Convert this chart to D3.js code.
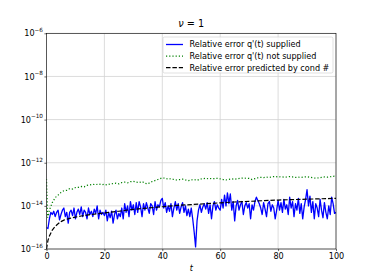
<!DOCTYPE html>
<html><head><meta charset="utf-8">
<script src="https://cdn.jsdelivr.net/npm/d3@7"></script>
<style>body{margin:0;background:#fff}svg{display:block}text{font-family:"DejaVu Sans",sans-serif}</style>
</head><body>
<svg id="c" width="374" height="280"></svg>
<script>
// Data (errors as log10 exponents)
const titleText = "= 1";
const xTicks = [0, 20, 40, 60, 80, 100];
const yTickExps = [-16, -14, -12, -10, -8, -6];
const legendLabels = ["Relative error q'(t) supplied", "Relative error q'(t) not supplied", "Relative error predicted by cond #"];

// blue: t = 0, 0.5, ..., 100
const tSupplied = d3.range(0, 100.01, 0.5);
const logErrSupplied = [
 -15.0,-15.05,-14.6,-14.3,-14.4,-14.25,-14.5,-14.3,-14.2,-14.65,-14.4,-14.2,-14.1,-14.5,-14.3,-14.8,-14.3,-14.2,-14.45,-14.1,
 -14.6,-14.3,-14.15,-14.4,-14.05,-14.5,-14.2,-14.3,-14.6,-14.1,-14.4,-14.25,-14.5,-14.15,-14.35,-14.0,-14.6,-14.2,-14.4,-14.3,
 -14.45,-14.2,-14.7,-14.3,-14.55,-14.25,-14.8,-14.4,-14.2,-14.6,-14.35,-14.5,-14.1,-14.6,-13.9,-14.3,-14.0,-14.5,-13.8,-14.2,
 -13.95,-14.4,-13.85,-14.3,-13.8,-14.05,-14.5,-13.9,-14.2,-13.85,-14.1,-14.35,-13.9,-14.0,-14.4,-13.8,-14.2,-13.95,-14.05,-13.75,
 -13.65,-14.1,-13.85,-14.3,-14.0,-14.25,-13.9,-14.5,-14.1,-13.8,-14.2,-13.9,-14.35,-14.05,-13.85,-14.3,-14.0,-14.45,-14.15,-14.5,
 -14.1,-14.6,-15.2,-15.9,-14.7,-14.2,-13.95,-14.3,-14.05,-13.9,-14.15,-13.85,-14.35,-13.95,-14.6,-14.0,-13.8,-14.2,-13.95,-14.1,
 -14.2,-13.7,-14.1,-13.5,-14.0,-13.4,-13.9,-13.45,-14.2,-13.8,-14.7,-14.0,-13.75,-14.2,-13.95,-13.8,-14.4,-14.0,-13.85,-14.1,
 -13.9,-14.6,-13.95,-14.2,-13.8,-13.6,-13.75,-13.9,-14.1,-14.4,-13.85,-14.15,-14.5,-13.9,-13.8,-14.25,-13.95,-14.1,-14.6,-14.2,
 -13.75,-14.2,-13.85,-14.3,-13.7,-14.15,-13.95,-14.4,-13.6,-14.1,-13.8,-14.5,-13.9,-14.2,-13.65,-14.35,-13.9,-14.6,-14.05,-13.7,
 -13.25,-14.0,-13.55,-14.3,-13.8,-14.6,-13.9,-14.1,-14.5,-13.7,-14.2,-14.55,-13.85,-14.3,-14.6,-14.0,-14.4,-13.6,-13.9,-14.35,
 -14.3
];

// green
const tNotSupplied = [0, 0.4].concat(d3.range(1, 101, 1));
const logErrNotSupplied = [
 -12.75,-14.55,-14.2,-13.85,-13.62,-13.5,-13.38,-13.3,-13.28,-13.2,-13.22,
 -13.15,-13.14,-13.1,-13.12,-13.05,-13.03,-13.0,-13.02,-12.98,-13.02,
 -13.0,-13.03,-12.98,-12.97,-12.95,-12.98,-12.92,-12.9,-12.93,-12.88,
 -12.86,-12.9,-12.92,-12.87,-12.95,-12.98,-12.9,-12.85,-12.8,-12.75,
 -12.7,-12.72,-12.76,-12.74,-12.78,-12.8,-12.78,-12.76,-12.8,-12.83,
 -12.8,-12.78,-12.82,-12.76,-12.74,-12.72,-12.75,-12.73,-12.74,-12.72,
 -12.75,-12.78,-12.8,-12.77,-12.75,-12.77,-12.74,-12.72,-12.71,-12.72,
 -12.73,-12.78,-12.74,-12.7,-12.68,-12.69,-12.67,-12.68,-12.65,-12.64,
 -12.66,-12.65,-12.67,-12.66,-12.64,-12.66,-12.68,-12.67,-12.68,-12.66,
 -12.65,-12.67,-12.7,-12.72,-12.7,-12.68,-12.66,-12.67,-12.65,-12.63,-12.62
];

// black dashed
const tPredicted = [0,0.5,1,2,3,4,5,6,8,10,12,15,20,25,30,35,40,45,50,55,60,65,70,75,80,85,90,95,100];
const logErrPredicted = [-16.0,-15.6,-15.4,-15.12,-14.95,-14.83,-14.73,-14.66,-14.58,-14.52,-14.47,-14.41,-14.33,-14.25,-14.16,-14.1,-14.04,-13.98,-13.94,-13.9,-13.86,-13.82,-13.79,-13.76,-13.73,-13.71,-13.69,-13.67,-13.65];

const svg = d3.select("#c");
const L = 46.5, R = 336, T = 33.3, B = 249;
const x = d3.scaleLinear().domain([0, 100]).range([L, R]);
const y = d3.scaleLog().domain([1e-16, 1e-6]).range([B, T]);

// grid
const g = svg.append("g");
g.selectAll("line.gx").data(xTicks).join("line")
  .attr("x1", d => x(d)).attr("x2", d => x(d)).attr("y1", T).attr("y2", B)
  .attr("stroke", "#d3d3d3").attr("stroke-width", 0.8);
g.selectAll("line.gy").data(yTickExps).join("line")
  .attr("y1", d => y(Math.pow(10, d))).attr("y2", d => y(Math.pow(10, d))).attr("x1", L).attr("x2", R)
  .attr("stroke", "#d3d3d3").attr("stroke-width", 0.8);

const clip = svg.append("clipPath").attr("id", "pc").append("rect")
  .attr("x", L).attr("y", T).attr("width", R - L).attr("height", B - T);

const line = d3.line().x(d => x(d[0])).y(d => y(Math.pow(10, d[1])));
const pl = svg.append("g").attr("clip-path", "url(#pc)");
pl.append("path").datum(d3.zip(tSupplied, logErrSupplied)).attr("d", line)
  .attr("fill", "none").attr("stroke", "#0000ff").attr("stroke-width", 1.3).attr("stroke-linejoin", "round");
pl.append("path").datum(d3.zip(tNotSupplied, logErrNotSupplied)).attr("d", line)
  .attr("fill", "none").attr("stroke", "#008000").attr("stroke-width", 1.2).attr("stroke-dasharray", "1.2,2");
pl.append("path").datum(d3.zip(tPredicted, logErrPredicted)).attr("d", line)
  .attr("fill", "none").attr("stroke", "#000").attr("stroke-width", 1.2).attr("stroke-dasharray", "4.5,1.9");

// axes
const xa = svg.append("g").attr("transform", `translate(0,${B})`)
  .call(d3.axisBottom(x).tickValues(xTicks).tickSize(2.1).tickPadding(2));
xa.select(".domain").remove();
xa.selectAll("text").attr("font-size", "8.1px").attr("font-family", "DejaVu Sans").attr("fill", "#000");
xa.selectAll("line").attr("stroke-width", 0.6);

const ya = svg.append("g").attr("transform", `translate(${L},0)`)
  .call(d3.axisLeft(y).tickValues(yTickExps.map(e => Math.pow(10, e))).tickSize(2.1).tickFormat(""));
ya.select(".domain").remove();
ya.selectAll("line").attr("stroke-width", 0.6);
ya.selectAll(".tick").each(function(d) {
  const e = Math.round(Math.log10(d));
  const t = d3.select(this).append("text").attr("x", -3.5).attr("dy", "0.32em")
    .attr("text-anchor", "end").attr("font-size", "8.1px").attr("fill", "#000");
  t.append("tspan").text("10");
  t.append("tspan").attr("font-size", "5.7px").attr("dy", "-0.75em").text("\u2212" + Math.abs(e));
});

// spines
svg.append("rect").attr("x", L).attr("y", T).attr("width", R - L).attr("height", B - T)
  .attr("fill", "none").attr("stroke", "#000").attr("stroke-width", 0.6);

// title
const tt = svg.append("text").attr("x", (L + R) / 2).attr("y", 26.5).attr("text-anchor", "middle")
  .attr("font-size", "9.7px");
tt.append("tspan").attr("font-style", "italic").text("\u03bd");
tt.append("tspan").text(" " + titleText);

// x label
svg.append("text").attr("x", (L + R) / 2).attr("y", 271).attr("text-anchor", "middle")
  .attr("font-size", "8.1px").attr("font-style", "italic").text("t");

// legend
const lg = svg.append("g");
lg.append("rect").attr("x", 163).attr("y", 37).attr("width", 170).attr("height", 36).attr("rx", 1.6)
  .attr("fill", "#fff").attr("fill-opacity", 0.8).attr("stroke", "#cccccc").attr("stroke-width", 0.6);
const styles = [
  {c: "#0000ff", d: null, w: 1.3},
  {c: "#008000", d: "1.2,2", w: 1.2},
  {c: "#000", d: "4.5,1.9", w: 1.2}
];
legendLabels.forEach((lab, i) => {
  const yy = 44.5 + i * 11.6;
  lg.append("line").attr("x1", 166).attr("x2", 183).attr("y1", yy).attr("y2", yy)
    .attr("stroke", styles[i].c).attr("stroke-width", styles[i].w)
    .attr("stroke-dasharray", styles[i].d);
  lg.append("text").attr("x", 189.5).attr("y", yy).attr("dy", "0.35em")
    .attr("font-size", "8.1px").text(lab);
});
</script>
</body></html>
